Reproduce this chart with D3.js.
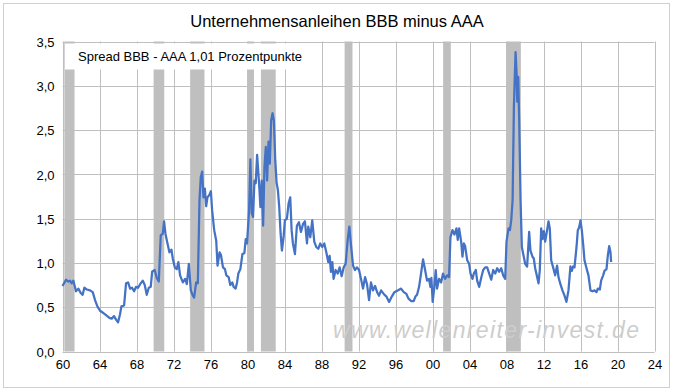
<!DOCTYPE html>
<html>
<head>
<meta charset="utf-8">
<script src="https://cdn.jsdelivr.net/npm/d3@7"></script>
<style>
    body { margin: 0; background: #fff; }
    svg { display: block; font-family: 'Liberation Sans', Arial, sans-serif; }
</style>
</head>
<body>
<svg id="chart" width="676" height="390"></svg>
<script>
var spread60s = [
    [1960.0, 0.74], [1960.38, 0.81], [1960.63, 0.79], [1960.81, 0.80], [1960.99, 0.77], [1961.17, 0.80],
    [1961.46, 0.68], [1961.71, 0.71], [1961.97, 0.66], [1962.18, 0.64], [1962.36, 0.72], [1962.62, 0.70],
    [1962.98, 0.69], [1963.27, 0.67], [1963.52, 0.58], [1963.77, 0.51], [1964.06, 0.46], [1964.35, 0.44],
    [1964.71, 0.41], [1965.07, 0.38], [1965.32, 0.37], [1965.57, 0.40], [1965.79, 0.36], [1966.01, 0.33],
    [1966.22, 0.42], [1966.37, 0.51], [1966.66, 0.52], [1966.87, 0.77], [1967.09, 0.78], [1967.31, 0.71],
    [1967.52, 0.72], [1967.74, 0.68], [1967.96, 0.73], [1968.17, 0.72], [1968.39, 0.76], [1968.68, 0.80],
    [1968.89, 0.75], [1969.11, 0.64], [1969.33, 0.72], [1969.54, 0.73], [1969.69, 0.90], [1969.97, 0.92]
];
var spread70s = [
    [1970.19, 0.83], [1970.41, 0.79], [1970.62, 1.31], [1970.84, 1.33], [1970.98, 1.47], [1971.13, 1.33],
    [1971.35, 1.22], [1971.56, 1.12], [1971.78, 1.15], [1971.92, 1.05], [1972.14, 0.95], [1972.35, 0.93],
    [1972.53, 1.01], [1972.71, 0.86], [1973.01, 0.78], [1973.26, 0.82], [1973.44, 0.76], [1973.66, 0.99],
    [1973.87, 0.69], [1974.09, 0.63], [1974.23, 0.61], [1974.45, 0.78], [1974.63, 0.77], [1974.81, 1.71],
    [1974.95, 1.97], [1975.1, 2.03], [1975.24, 1.74], [1975.39, 1.84], [1975.53, 1.64], [1975.67, 1.74],
    [1975.89, 1.77], [1976.04, 1.81], [1976.18, 1.59], [1976.4, 1.37], [1976.62, 1.25], [1976.76, 0.97],
    [1976.98, 1.12], [1977.13, 1.09], [1977.35, 0.95], [1977.56, 0.93], [1977.71, 0.86], [1977.96, 0.84],
    [1978.14, 0.75], [1978.36, 0.78], [1978.5, 0.73], [1978.72, 0.71], [1978.87, 0.78], [1979.01, 0.88],
    [1979.23, 0.93], [1979.45, 1.10], [1979.66, 1.11], [1979.81, 1.27], [1979.95, 1.22]
];
var spread80s = [
    [1980.17, 1.59], [1980.31, 2.17], [1980.46, 1.56], [1980.6, 1.52], [1980.75, 1.93], [1980.89, 1.90],
    [1981.04, 2.22], [1981.25, 1.90], [1981.4, 1.63], [1981.54, 1.93], [1981.69, 1.42], [1981.83, 2.08],
    [1981.98, 2.31], [1982.12, 1.93], [1982.27, 2.37], [1982.41, 2.12], [1982.56, 2.61], [1982.71, 2.69],
    [1982.85, 2.61], [1983.0, 2.16], [1983.14, 1.91], [1983.29, 1.82], [1983.43, 1.63], [1983.58, 1.33],
    [1983.72, 1.14], [1983.9, 1.29], [1984.04, 1.48], [1984.26, 1.50], [1984.44, 1.67], [1984.62, 1.74],
    [1984.77, 1.37], [1984.91, 1.22], [1985.13, 1.10], [1985.34, 1.42], [1985.56, 1.46], [1985.78, 1.35],
    [1986.0, 1.44], [1986.21, 1.47], [1986.43, 1.22], [1986.57, 1.41], [1986.79, 1.29], [1987.0, 1.48],
    [1987.22, 1.24], [1987.43, 1.18], [1987.65, 1.16], [1987.87, 1.22], [1988.08, 1.18], [1988.3, 1.22],
    [1988.52, 1.12], [1988.73, 1.01], [1988.88, 1.08], [1989.02, 0.90], [1989.17, 1.01], [1989.31, 0.82],
    [1989.53, 0.92], [1989.75, 0.88], [1989.96, 0.95]
];
var spread90s = [
    [1990.18, 0.85], [1990.4, 0.95], [1990.61, 0.99], [1990.83, 1.26], [1991.01, 1.41], [1991.19, 1.20],
    [1991.41, 0.97], [1991.62, 0.92], [1991.84, 0.95], [1992.06, 0.92], [1992.27, 0.82], [1992.49, 0.71],
    [1992.71, 0.84], [1992.92, 0.76], [1993.14, 0.58], [1993.35, 0.78], [1993.57, 0.69], [1993.79, 0.74],
    [1994.01, 0.67], [1994.22, 0.63], [1994.44, 0.69], [1994.73, 0.65], [1995.02, 0.62], [1995.31, 0.56],
    [1995.6, 0.62], [1995.88, 0.67], [1996.24, 0.69], [1996.6, 0.71], [1996.89, 0.67], [1997.18, 0.65],
    [1997.39, 0.60], [1997.68, 0.57], [1997.97, 0.57], [1998.15, 0.62], [1998.33, 0.64], [1998.55, 0.73],
    [1998.76, 0.88], [1998.98, 1.04], [1999.2, 0.92], [1999.41, 0.80], [1999.63, 0.82], [1999.77, 0.73],
    [1999.88, 0.83]
];
var spread00s = [
    [2000.02, 0.56], [2000.2, 0.73], [2000.35, 0.92], [2000.49, 0.71], [2000.71, 0.82], [2000.93, 0.78],
    [2001.14, 0.88], [2001.36, 0.82], [2001.58, 0.86], [2001.79, 0.84], [2001.94, 1.29], [2002.16, 1.37],
    [2002.37, 1.32], [2002.59, 1.39], [2002.73, 1.26], [2002.88, 1.39], [2003.1, 1.24], [2003.24, 1.07],
    [2003.39, 1.22], [2003.53, 1.19], [2003.75, 1.03], [2003.96, 0.99], [2004.11, 0.88], [2004.32, 0.82],
    [2004.47, 0.88], [2004.68, 0.92], [2004.83, 0.80], [2005.05, 0.73], [2005.26, 0.83], [2005.48, 0.92],
    [2005.7, 0.95], [2005.91, 0.95], [2006.13, 0.88], [2006.35, 0.81], [2006.56, 0.92], [2006.78, 0.88],
    [2007.0, 0.94], [2007.21, 0.90], [2007.43, 0.94], [2007.64, 0.86], [2007.86, 0.82], [2008.0, 1.24],
    [2008.22, 1.39], [2008.37, 1.37], [2008.51, 1.48], [2008.66, 1.71], [2008.8, 2.76], [2008.98, 3.38],
    [2009.09, 3.14], [2009.16, 2.82], [2009.27, 3.10], [2009.38, 2.57], [2009.52, 1.71], [2009.66, 1.18],
    [2009.81, 1.10]
];
var spread10s = [
    [2010.02, 0.99], [2010.23, 0.96], [2010.45, 1.35], [2010.59, 1.14], [2010.81, 1.07], [2010.95, 1.05],
    [2011.1, 0.94], [2011.31, 0.84], [2011.46, 0.77], [2011.6, 0.92], [2011.75, 1.39], [2011.89, 1.27],
    [2012.04, 1.36], [2012.18, 1.24], [2012.39, 1.37], [2012.54, 1.47], [2012.68, 1.39], [2012.83, 1.03],
    [2013.04, 0.95], [2013.26, 0.86], [2013.47, 0.97], [2013.62, 0.84], [2013.83, 0.76], [2014.05, 0.69],
    [2014.27, 0.63], [2014.48, 0.56], [2014.7, 0.69], [2014.91, 0.96], [2015.06, 0.91], [2015.2, 0.96],
    [2015.35, 0.95], [2015.57, 1.18], [2015.71, 1.37], [2015.85, 1.40], [2016.0, 1.48], [2016.14, 1.37],
    [2016.28, 1.22], [2016.43, 1.03], [2016.65, 0.94], [2016.86, 0.86], [2017.08, 0.69], [2017.3, 0.68],
    [2017.51, 0.69], [2017.73, 0.67], [2017.87, 0.71], [2018.09, 0.70], [2018.23, 0.80], [2018.45, 0.86],
    [2018.59, 0.91], [2018.81, 0.93], [2018.95, 1.08], [2019.1, 1.19], [2019.24, 1.12], [2019.31, 1.01]
];

// Rezessionen (graue Balken), [Beginn, Ende]
var recessions = [
    [1960.2, 1961.3], [1969.85, 1971.0], [1973.8, 1975.35], [1979.95, 1980.7],
    [1981.45, 1983.05], [1990.5, 1991.35], [2001.15, 2001.98], [2007.95, 2009.55]
];

var xTicks = [1960, 1964, 1968, 1972, 1976, 1980, 1984, 1988, 1992, 1996, 2000, 2004, 2008, 2012, 2016, 2020, 2024];
var yTicks = [0, 0.5, 1.0, 1.5, 2.0, 2.5, 3.0, 3.5];

var title = 'Unternehmensanleihen BBB minus AAA';
var legendText = 'Spread BBB - AAA 1,01 Prozentpunkte';
var watermark = 'www.wellenreiter-invest.de';

var data = [].concat(spread60s, spread70s, spread80s, spread90s, spread00s, spread10s);

var svg = d3.select('#chart');

var plotLeft = 62.5;
var plotRight = 654.5;
var plotTop = 41.5;
var plotBottom = 351.5;

var x = d3.scaleLinear()
    .domain([1960, 2024])
    .range([plotLeft, plotRight]);

var y = d3.scaleLinear()
    .domain([0, 3.5])
    .range([plotBottom, plotTop]);

// Rahmen
svg.append('rect')
    .attr('x', 3.5)
    .attr('y', 3.5)
    .attr('width', 666)
    .attr('height', 384)
    .attr('fill', '#fff')
    .attr('stroke', '#d0d0d0');

svg.append('text')
    .attr('x', 337)
    .attr('y', 27)
    .attr('text-anchor', 'middle')
    .style('font-size', '16.5px')
    .attr('fill', '#000')
    .text(title);

// Rezessionsbalken
svg.append('g')
    .selectAll('rect')
    .data(recessions)
    .enter()
    .append('rect')
    .attr('x', function (d) {
        return x(d[0]);
    })
    .attr('width', function (d) {
        return x(d[1]) - x(d[0]);
    })
    .attr('y', plotTop)
    .attr('height', plotBottom - plotTop)
    .attr('fill', '#bfbfbf');

// Gitter
var grid = svg.append('g')
    .attr('stroke', '#bfbfbf')
    .attr('stroke-width', 1);

grid.selectAll('.hgrid')
    .data(yTicks)
    .enter()
    .append('line')
    .attr('class', 'hgrid')
    .attr('x1', plotLeft)
    .attr('x2', plotRight)
    .attr('y1', function (d) {
        return Math.round(y(d)) + 0.5;
    })
    .attr('y2', function (d) {
        return Math.round(y(d)) + 0.5;
    });

grid.selectAll('.vgrid')
    .data(xTicks)
    .enter()
    .append('line')
    .attr('class', 'vgrid')
    .attr('y1', plotTop)
    .attr('y2', plotBottom)
    .attr('x1', function (d) {
        return Math.round(x(d)) + 0.5;
    })
    .attr('x2', function (d) {
        return Math.round(x(d)) + 0.5;
    });

// Achsen
var fmt = d3.format('.1f');

var yAxis = svg.append('g')
    .attr('transform', `translate(${plotLeft - 8},0)`)
    .call(d3.axisLeft(y)
        .tickValues(yTicks)
        .tickSize(0)
        .tickPadding(0)
        .tickFormat(function (d) {
            return fmt(d).replace('.', ',');
        }));

var xAxis = svg.append('g')
    .attr('transform', `translate(0,${plotBottom + 8})`)
    .call(d3.axisBottom(x)
        .tickValues(xTicks)
        .tickSize(0)
        .tickPadding(0)
        .tickFormat(function (d) {
            return d3.format('02d')(d % 100);
        }));

svg.selectAll('.domain').remove();
svg.selectAll('.tick text')
    .style('font-size', '13px')
    .style('font-family', "'Liberation Sans', Arial, sans-serif")
    .attr('fill', '#000');
yAxis.selectAll('.tick text').attr('dy', '0.36em');
xAxis.selectAll('.tick text').attr('dy', '0.72em');

// Wasserzeichen
svg.append('text')
    .attr('x', 333)
    .attr('y', 338)
    .attr('textLength', 306)
    .attr('lengthAdjust', 'spacing')
    .style('font-size', '23px')
    .style('font-style', 'italic')
    .attr('fill', '#cdcdcd')
    .text(watermark);

// Linie
var line = d3.line()
    .x(function (d) {
        return x(d[0]);
    })
    .y(function (d) {
        return y(d[1]);
    });

svg.append('path')
    .datum(data)
    .attr('fill', 'none')
    .attr('stroke', '#4472c4')
    .attr('stroke-width', 2.25)
    .attr('stroke-linejoin', 'round')
    .attr('d', line);

// Legende
svg.append('rect')
    .attr('x', 65)
    .attr('y', 43.5)
    .attr('width', 243)
    .attr('height', 26)
    .attr('fill', '#fff');

svg.append('text')
    .attr('x', 78)
    .attr('y', 61)
    .style('font-size', '13px')
    .attr('fill', '#000')
    .text(legendText);
</script>
</body>
</html>
